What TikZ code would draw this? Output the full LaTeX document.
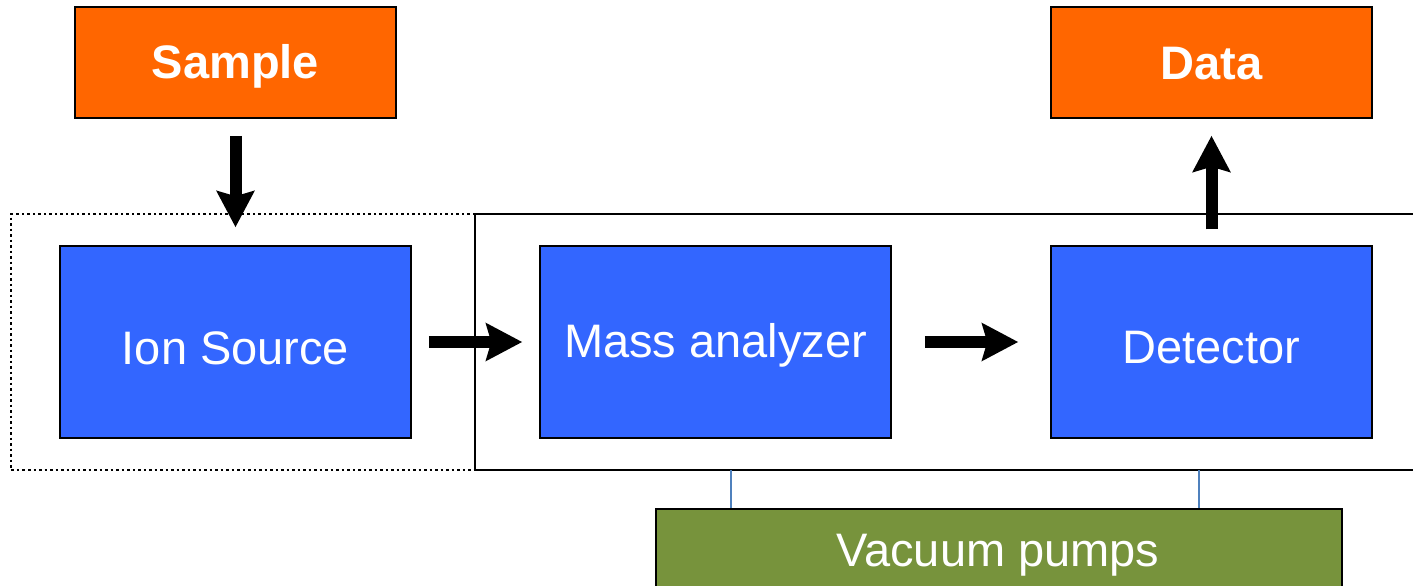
\documentclass[tikz,border=0pt]{standalone}
\usepackage{fontspec}
\setmainfont{Liberation Sans}
\usetikzlibrary{arrows.meta}
\definecolor{boxorange}{HTML}{FF6600}
\definecolor{boxblue}{HTML}{3366FF}
\definecolor{boxgreen}{HTML}{77933C}
\definecolor{linkblue}{HTML}{4F81BD}
\tikzset{
  unitbox/.style={draw=black, line width=1.5pt, text=white, inner sep=0pt},
  ioorange/.style={unitbox, fill=boxorange},
  stagebox/.style={unitbox, fill=boxblue},
  pumpbox/.style={unitbox, fill=boxgreen},
  label/.style={text=white, inner sep=0pt, font=\fontsize{47}{56}\selectfont},
  boldlabel/.style={label, font=\fontsize{47}{56}\selectfont\bfseries},
  flow/.style={line width=12pt, -{Stealth[length=36pt,width=37pt,inset=5pt]}},
  frameline/.style={line width=2.2pt},
  dotframe/.style={line width=2.5pt, dash pattern=on 2.5pt off 3pt},
  pumplink/.style={draw=linkblue, line width=1.6pt}
}
\begin{document}
\begin{tikzpicture}[x=1pt,y=-1pt]
\useasboundingbox (0,0) rectangle (1413,586);
\clip (0,0) rectangle (1413,586);

% enclosures: ion source (dotted) and vacuum chamber (solid, runs off the right edge)
\draw[dotframe] (475,214) -- (11,214) -- (11,470) -- (475,470);
\draw[frameline] (1430,214) -- (475,214) -- (475,470) -- (1430,470);

% input / output
\node[ioorange, minimum width=321pt, minimum height=111pt] (sample) at (235.5,62.5) {};
\node[boldlabel] at ([yshift=-4pt]sample.center) {Sample};
\node[ioorange, minimum width=321pt, minimum height=111pt] (data) at (1211.5,62.5) {};
\node[boldlabel] at ([yshift=-1pt]data.center) {Data};

% instrument stages
\node[stagebox, minimum width=351pt, minimum height=192pt] (ion) at (235.5,342) {};
\node[label] at ([yshift=-6pt]ion.center) {Ion Source};
\node[stagebox, minimum width=351pt, minimum height=192pt] (mass) at (715.5,342) {};
\node[label] at ([yshift=-3pt]mass.center) {Mass analyzer};
\node[stagebox, minimum width=321pt, minimum height=192pt] (det) at (1211.5,342) {};
\node[label] at ([yshift=-6pt]det.center) {Detector};

% pumps
\node[pumpbox, minimum width=686pt, minimum height=86pt, anchor=north west] (pump) at (655,508) {};
\node[label] at (998,555) {Vacuum pumps};

% flow arrows
\draw[flow, shorten <=17pt, shorten >=18pt] (sample.south) -- (ion.north);
\draw[flow, shorten <=17pt, shorten >=17pt] (ion.east) -- (mass.west);
\draw[flow, shorten <=33pt, shorten >=32pt] (mass.east) -- (det.west);
\draw[flow, shorten <=16pt, shorten >=17pt] (det.north) -- (data.south);

% pump connections to the chamber
\coordinate (p1) at (731,470);
\coordinate (p2) at (1199,470);
\draw[pumplink] (p1) -- (p1 |- pump.north);
\draw[pumplink] (p2) -- (p2 |- pump.north);
\end{tikzpicture}
\end{document}
